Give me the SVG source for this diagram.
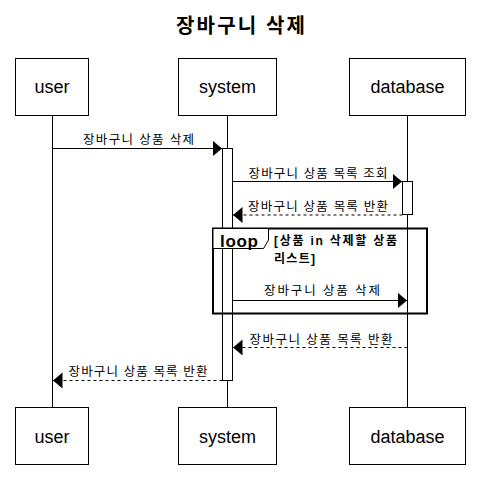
<svg xmlns="http://www.w3.org/2000/svg" width="480" height="498" viewBox="0 0 480 498">
<style>
.box{fill:#fff;stroke:#000;stroke-width:1}
.pt{font-family:"Liberation Sans","Noto Sans CJK KR",sans-serif;font-size:18px;text-anchor:middle}
.lbl{font-family:"Liberation Sans","Noto Sans CJK KR",sans-serif;font-size:12.5px;text-anchor:middle}
.life{stroke:#000;stroke-width:1;fill:none}
.msg{stroke:#000;stroke-width:1;fill:none}
.dash{stroke-dasharray:3,3}
.act{fill:#fff;stroke:#000;stroke-width:1}
.grd{font-family:"Liberation Sans","Noto Sans CJK KR",sans-serif;font-size:12px;font-weight:bold}
</style>
<defs>
<marker id="ah" markerWidth="12" markerHeight="18" refX="9.5" refY="8" orient="auto" markerUnits="userSpaceOnUse"><path d="M0,0 L9.5,8 L0,16 Z" fill="#000"/></marker>
</defs>
<rect width="480" height="498" fill="#fff"/>
<text x="240.5" y="33" font-family="'Liberation Sans','Noto Sans CJK KR',sans-serif" font-size="20" font-weight="bold" text-anchor="middle" textLength="129">장바구니 삭제</text>
<g id="lifelines">
<line class="life" x1="52.5" y1="115" x2="52.5" y2="407"/>
<line class="life" x1="227.5" y1="115" x2="227.5" y2="407"/>
<line class="life" x1="407.5" y1="115" x2="407.5" y2="407"/>
</g>
<g id="user">
<rect class="box" x="15.5" y="58.5" width="73" height="57"/>
<text class="pt" x="52" y="93">user</text>
<rect class="box" x="15.5" y="407.5" width="73" height="57"/>
<text class="pt" x="52" y="443">user</text>
</g>
<g id="system">
<rect class="box" x="178.5" y="58.5" width="98" height="57"/>
<text class="pt" x="227.5" y="93">system</text>
<rect class="box" x="178.5" y="407.5" width="98" height="57"/>
<text class="pt" x="227.5" y="443">system</text>
<rect class="act" x="222.5" y="148.5" width="10" height="232"/>
</g>
<g id="database">
<rect class="box" x="349.5" y="58.5" width="116" height="57"/>
<text class="pt" x="407.5" y="93">database</text>
<rect class="box" x="349.5" y="407.5" width="116" height="57"/>
<text class="pt" x="407.5" y="443">database</text>
<rect class="act" x="402.5" y="181.5" width="10" height="33"/>
</g>
<g id="loop">
<rect x="213" y="228.5" width="214" height="85" fill="none" stroke="#000" stroke-width="2"/>
<path d="M213,228.5 H268.5 V240 L263.5,248.5 H213 Z" fill="#fff" stroke="#000" stroke-width="1"/>
<text x="220" y="247" font-family="'Liberation Sans',sans-serif" font-size="17" font-weight="bold" textLength="38">loop</text>
<text class="grd" x="274" y="245" textLength="123">[상품 in 삭제할 상품</text>
<text class="grd" x="274" y="263" textLength="41">리스트]</text>
</g>
<g id="connectors">
<line class="msg" x1="52.5" y1="148.5" x2="222" y2="148.5" marker-end="url(#ah)"/>
<text class="lbl" x="138.5" y="144" textLength="111">장바구니 상품 삭제</text>
<line class="msg" x1="232.5" y1="181.5" x2="402" y2="181.5" marker-end="url(#ah)"/>
<text class="lbl" x="318" y="178" textLength="139">장바구니 상품 목록 조회</text>
<line class="msg dash" x1="402.5" y1="215" x2="233" y2="215" marker-end="url(#ah)"/>
<text class="lbl" x="318" y="211" textLength="140">장바구니 상품 목록 반환</text>
<line class="msg" x1="232.5" y1="300.5" x2="407" y2="300.5" marker-end="url(#ah)"/>
<text class="lbl" x="322" y="295" textLength="116">장바구니 상품 삭제</text>
<line class="msg dash" x1="407.5" y1="347.5" x2="233" y2="347.5" marker-end="url(#ah)"/>
<text class="lbl" x="321" y="344" textLength="143">장바구니 상품 목록 반환</text>
<line class="msg dash" x1="222.5" y1="380.5" x2="53" y2="380.5" marker-end="url(#ah)"/>
<text class="lbl" x="138" y="376" textLength="139">장바구니 상품 목록 반환</text>
</g>
</svg>
